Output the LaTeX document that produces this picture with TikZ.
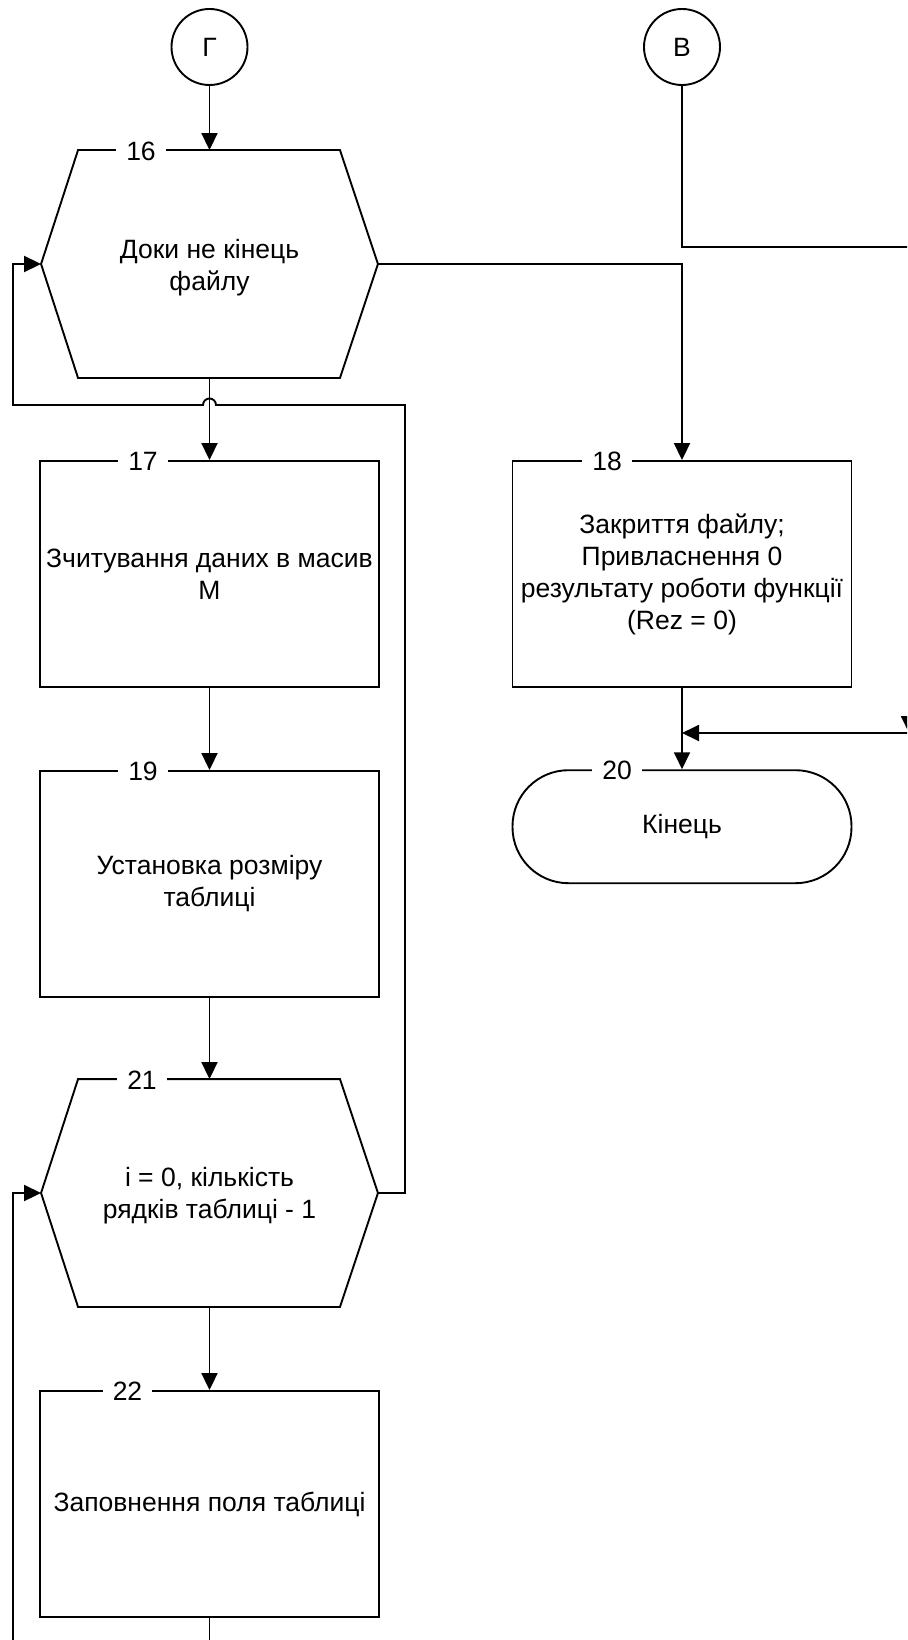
\documentclass[tikz,border=0pt]{standalone}
\usepackage{fontspec}
\setmainfont{Liberation Sans}
\usetikzlibrary{arrows.meta}

% outline of a hexagonal loop block around an invisible node
\newcommand\hexoutline[1]{%
  \draw (#1.west) -- ([xshift=37pt]#1.north west) -- ([xshift=-38pt]#1.north east)
    -- (#1.east) -- ([xshift=-38pt]#1.south east) -- ([xshift=37pt]#1.south west) -- cycle;}

\begin{document}
\begin{tikzpicture}[x=1pt,y=-1pt,line width=1.9pt,
  every node/.style={font=\fontsize{26.5}{32}\selectfont},
  conn/.style={-{Triangle[length=17pt,width=16pt]}},
  procbox/.style={draw,minimum width=339pt,minimum height=226pt,align=center,inner xsep=0pt},
  hexbox/.style={minimum width=335pt,minimum height=226pt,inner sep=0pt},
  hextext/.style={align=center,inner xsep=0pt},
  connector/.style={draw,circle,minimum size=76pt,inner sep=0pt},
  termbox/.style={draw,rounded corners=56pt,minimum width=339pt,minimum height=113pt},
  numlabel/.style={fill=white,inner xsep=10pt,inner ysep=1pt}]

\useasboundingbox (0,0) rectangle (907,1640);
\clip (0,0) rectangle (907,1640);

% off-page connectors
\node[connector] (cG) at (209.5,47) {Г};
\node[connector] (cV) at (682,47) {В};

% left column
\node[hexbox] (hex16) at (209.5,264) {};
\node[hextext] (hex16txt) at (209.5,268) {Доки не кінець\\файлу};
\hexoutline{hex16}
\node[procbox] (p17) at (209.5,574) {Зчитування даних в масив\\М};
\node[procbox] (p19) at (209.5,884) {Установка розміру\\таблиці};
\node[hexbox] (hex21) at (209.5,1193) {};
\node[hextext] (hex21txt) at (209.5,1196) {i = 0, кількість\\рядків таблиці - 1};
\hexoutline{hex21}
\node[procbox] (p22) at (209.5,1504) {Заповнення поля таблиці};

% right column
\node[procbox] (p18) at (682,574) {Закриття файлу;\\Привласнення 0\\результату роботи функції\\(Rez = 0)};
\node[termbox] (t20) at (682,826.7) {Кінець};

% block numbers
\node[numlabel] (n16) at (141,151) {16};
\node[numlabel] (n17) at (143,461) {17};
\node[numlabel] (n19) at (143,771) {19};
\node[numlabel] (n21) at (142,1080) {21};
\node[numlabel] (n22) at (127.5,1391) {22};
\node[numlabel] (n18) at (607,461) {18};
\node[numlabel] (n20) at (617,770) {20};

% helper points for the connectors
\coordinate (bot) at (209.5,1650);
\coordinate (lb) at (13,1650);
\coordinate (loopR) at (405,405);
\coordinate (jumpR) at (216,405);
\coordinate (loopL) at (13,405);
\coordinate (offR) at (909,247);
\coordinate (offM) at (909,733);

% connectors
\draw[conn] (cG) -- (hex16.north);
\draw[conn] (hex16.south) -- (p17.north);
\draw[conn] (p17) -- (p19);
\draw[conn] (p19) -- (hex21.north);
\draw[conn] (hex21.south) -- (p22.north);
\draw (p22.south) -- (bot);
\draw[conn] (lb) |- (hex21.west);
\draw[conn] (hex21.east) -| (loopR) -- (jumpR)
  arc[start angle=0,end angle=180,radius=6.5pt] -- (loopL) |- (hex16.west);
\draw[conn] (hex16.east) -| (p18.north);
\draw[conn] (p18) -- (t20);
\draw[conn] (cV) |- (offR) -- (offM);
\draw[conn] (offM) -- (offM -| p18.south);
\end{tikzpicture}
\end{document}
